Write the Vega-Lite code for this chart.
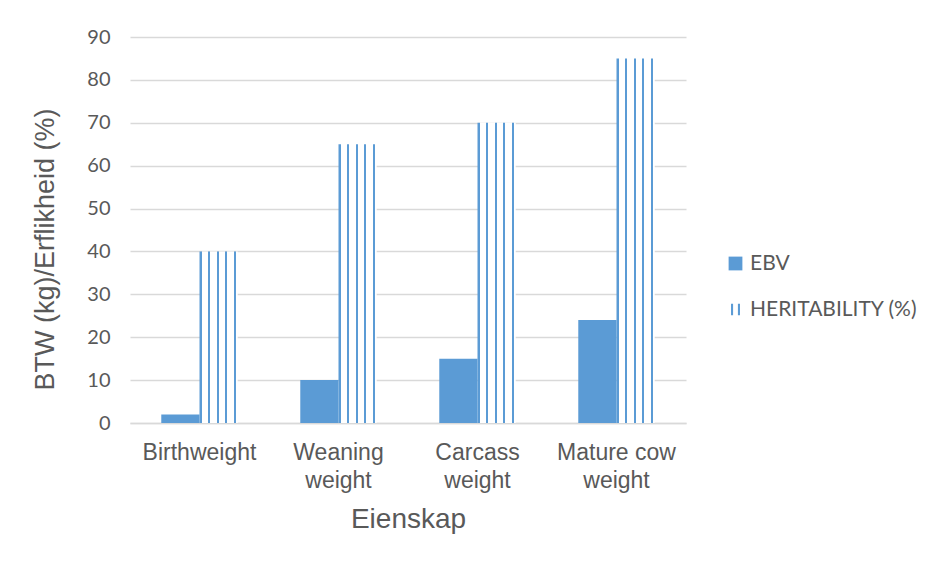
{
  "$schema": "https://vega.github.io/schema/vega-lite/v6.json",
  "width": 556,
  "height": 386,
  "autosize": {"type": "none"},
  "padding": {"left": 130, "top": 37, "right": 246, "bottom": 139},
  "background": "white",
  "data": {
    "values": [
      {"trait": "Birthweight", "series": "EBV", "value": 2},
      {"trait": "Birthweight", "series": "HERITABILITY (%)", "value": 40},
      {"trait": "Weaning weight", "series": "EBV", "value": 10},
      {"trait": "Weaning weight", "series": "HERITABILITY (%)", "value": 65},
      {"trait": "Carcass weight", "series": "EBV", "value": 15},
      {"trait": "Carcass weight", "series": "HERITABILITY (%)", "value": 70},
      {"trait": "Mature cow weight", "series": "EBV", "value": 24},
      {"trait": "Mature cow weight", "series": "HERITABILITY (%)", "value": 85}
    ]
  },
  "encoding": {
    "x": {
      "field": "trait",
      "type": "nominal",
      "sort": ["Birthweight", "Weaning weight", "Carcass weight", "Mature cow weight"],
      "scale": {"paddingInner": 0.45, "paddingOuter": 0.225},
      "axis": {
        "title": "Eienskap",
        "titleFont": "Liberation Sans",
        "titleFontSize": 28,
        "titleFontWeight": "normal",
        "titleColor": "#595959",
        "titlePadding": 13,
        "labelFont": "Liberation Sans",
        "labelFontSize": 23,
        "labelColor": "#595959",
        "labelAngle": 0,
        "labelPadding": 18,
        "labelLineHeight": 28,
        "labelExpr": "datum.value == 'Birthweight' ? datum.value : [replace(datum.value, ' weight', ''), 'weight']",
        "ticks": false,
        "domainColor": "#D9D9D9",
        "domainWidth": 1.5
      }
    },
    "xOffset": {
      "field": "series",
      "type": "nominal",
      "sort": ["EBV", "HERITABILITY (%)"],
      "scale": {"domain": ["EBV", "HERITABILITY (%)"], "paddingInner": 0, "paddingOuter": 0}
    },
    "y": {
      "field": "value",
      "type": "quantitative",
      "scale": {"domain": [0, 90], "nice": false},
      "axis": {
        "title": "BTW (kg)/Erflikheid (%)",
        "titleFont": "Liberation Sans",
        "titleFontSize": 27,
        "titleFontWeight": "normal",
        "titleColor": "#595959",
        "titleAngle": -90,
        "titleAlign": "center",
        "titleBaseline": "alphabetic",
        "titleX": -77,
        "titleY": 212,
        "values": [0, 10, 20, 30, 40, 50, 60, 70, 80, 90],
        "labelFont": "Lato",
        "labelFontSize": 20,
        "labelColor": "#595959",
        "labelPadding": 20,
        "ticks": false,
        "domain": false,
        "grid": true,
        "gridColor": "#D9D9D9",
        "gridWidth": 1.5
      }
    }
  },
  "layer": [
    {
      "transform": [{"filter": "datum.series == 'EBV'"}],
      "mark": {"type": "bar"},
      "encoding": {
        "color": {
          "field": "series",
          "type": "nominal",
          "scale": {"domain": ["EBV", "HERITABILITY (%)"], "range": ["#5B9BD5", "#5B9BD5"]},
          "legend": {
            "title": null,
            "orient": "none",
            "legendX": 595,
            "legendY": 216,
            "labelFont": "Lato",
            "labelFontSize": 21,
            "labelColor": "#595959",
            "labelOffset": 4,
            "symbolSize": 190,
            "symbolStrokeWidth": 0,
            "rowPadding": 24,
            "labelLimit": 300,
            "symbolType": "square",
            "encode": {
              "symbols": {
                "update": {
                  "shape": {"signal": "datum.value == 'EBV' ? 'square' : 'M-0.65,-0.85H-0.35V0.85H-0.65Z M0.35,-0.85H0.65V0.85H0.35Z'"}
                }
              }
            }
          }
        }
      }
    },
    {
      "transform": [{"filter": "datum.series != 'EBV'"}],
      "mark": {
        "type": "bar",
        "fill": {
          "gradient": "linear",
          "x1": 0, "y1": 0, "x2": 1, "y2": 0,
          "stops": [
            {"offset": 0, "color": "#5B9BD5"},
            {"offset": 0.055, "color": "#5B9BD5"},
            {"offset": 0.055, "color": "#FFFFFF"},
            {"offset": 0.22, "color": "#FFFFFF"},
            {"offset": 0.22, "color": "#5B9BD5"},
            {"offset": 0.275, "color": "#5B9BD5"},
            {"offset": 0.275, "color": "#FFFFFF"},
            {"offset": 0.445, "color": "#FFFFFF"},
            {"offset": 0.445, "color": "#5B9BD5"},
            {"offset": 0.5, "color": "#5B9BD5"},
            {"offset": 0.5, "color": "#FFFFFF"},
            {"offset": 0.67, "color": "#FFFFFF"},
            {"offset": 0.67, "color": "#5B9BD5"},
            {"offset": 0.725, "color": "#5B9BD5"},
            {"offset": 0.725, "color": "#FFFFFF"},
            {"offset": 0.89, "color": "#FFFFFF"},
            {"offset": 0.89, "color": "#5B9BD5"},
            {"offset": 0.945, "color": "#5B9BD5"},
            {"offset": 0.945, "color": "#FFFFFF"},
            {"offset": 1, "color": "#FFFFFF"}
          ]
        }
      },
      "encoding": {}
    }
  ],
  "config": {
    "view": {"stroke": null}
  }
}
